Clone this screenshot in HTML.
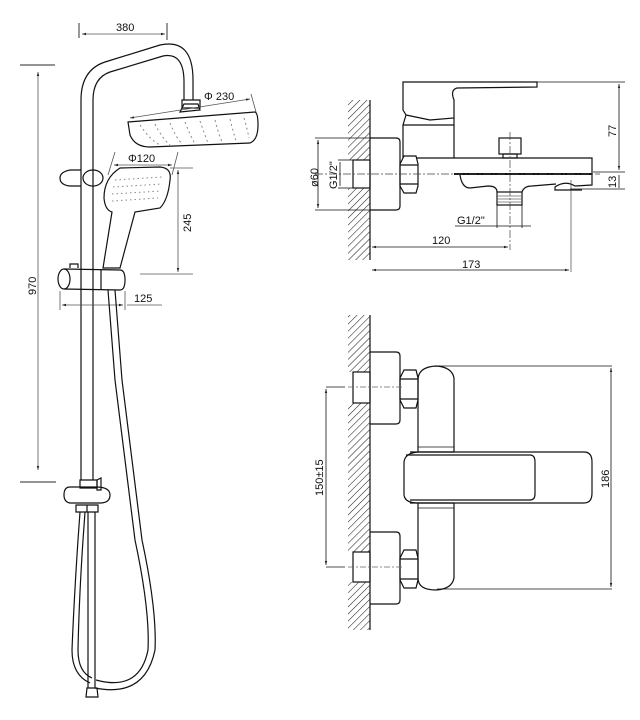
<!DOCTYPE html>
<html><head><meta charset="utf-8"><style>
html,body{margin:0;padding:0;background:#fff;}
svg{display:block}
text{font-family:"Liberation Sans",sans-serif;font-size:11px;fill:#111}
</style></head><body>
<svg width="640" height="720" viewBox="0 0 640 720" xmlns="http://www.w3.org/2000/svg">
<defs>
<pattern id="h" width="5" height="5" patternUnits="userSpaceOnUse" patternTransform="rotate(45)">
<line x1="0" y1="0" x2="0" y2="5" stroke="#222" stroke-width="1.1"/>
</pattern>
<marker id="a" markerWidth="6" markerHeight="6" refX="5" refY="3" orient="auto"><path d="M0,1.5 L5,3 L0,4.5z" fill="#222"/></marker>
<marker id="b" markerWidth="6" markerHeight="6" refX="1" refY="3" orient="auto"><path d="M6,1.5 L1,3 L6,4.5z" fill="#222"/></marker>
</defs>
<g fill="none" stroke="#111" stroke-width="1.2">
<!-- LEFT: shower column -->
<!-- 380 -->
<line x1="79" y1="23" x2="79" y2="38" stroke="#555"/><line x1="167" y1="23" x2="167" y2="40" stroke="#555"/>
<line x1="82" y1="34" x2="165" y2="34" stroke="#555" stroke-width="0.8" marker-start="url(#b)" marker-end="url(#a)"/>
<!-- 970 -->
<line x1="20" y1="65" x2="55" y2="65" stroke="#555"/><line x1="20" y1="482" x2="56" y2="482" stroke="#555"/>
<line x1="38" y1="72" x2="38" y2="470" stroke="#555" stroke-width="0.8" marker-start="url(#b)" marker-end="url(#a)"/>
<!-- rail pipe -->
<path d="M81,480 L81,100 Q81,70 105,62 L160,45 Q193,38 193,80 L193,100"/>
<path d="M93,480 L93,100 Q93,78 110,72 L163,56 Q184,52 184,82 L184,100"/>
<path d="M182,100 L182,108 L200,108 L200,100 Z"/>
<!-- head shower -->
<path d="M128,122 L255,112 Q258,113 258,125 Q258,140 250,143 L150,147 Q135,147 130,135 Z"/>
<path d="M180,112 L200,110 L198,104 L184,104 Z"/>
<g stroke="#888" stroke-width="1" stroke-dasharray="2 3">
<path d="M140,125 Q150,140 160,145"/><path d="M155,124 Q162,138 170,145"/><path d="M170,123 Q175,136 182,144"/><path d="M185,122 Q190,135 195,144"/><path d="M200,121 Q204,133 208,143"/><path d="M215,120 Q218,132 222,142"/><path d="M230,119 Q233,131 236,141"/><path d="M244,118 Q247,128 249,138"/>
</g>
<line x1="130" y1="118" x2="250" y2="99" stroke="#555" stroke-width="0.8" marker-start="url(#b)" marker-end="url(#a)"/>
<line x1="251" y1="94" x2="256" y2="112" stroke="#555" stroke-width="0.8"/>
<!-- upper holder -->
<path d="M81,170 L70,170 Q60,172 60,178 Q60,185 70,186 L81,186"/>
<ellipse cx="93" cy="178" rx="10" ry="8"/>
<!-- hand shower -->
<path d="M120,168 L160,167 Q172,168 170,180 Q168,200 160,208 L135,212 L120,268 L103,268 L112,212 Q105,210 104,198 Q104,178 120,168 Z"/>
<g stroke="#888" stroke-width="1" stroke-dasharray="1.5 3">
<path d="M115,180 L162,177"/><path d="M113,187 L162,184"/><path d="M112,194 L161,191"/><path d="M112,201 L158,198"/>
</g>
<line x1="114" y1="165" x2="172" y2="165" stroke="#555" stroke-width="0.8" marker-start="url(#b)" marker-end="url(#a)"/>
<line x1="115" y1="152" x2="108" y2="175" stroke="#555" stroke-width="0.8"/><line x1="178" y1="152" x2="172" y2="175" stroke="#555" stroke-width="0.8"/>
<!-- 245 -->
<line x1="170" y1="168" x2="193" y2="168" stroke="#555" stroke-width="0.8"/><line x1="140" y1="274" x2="193" y2="274" stroke="#555" stroke-width="0.8"/>
<line x1="178" y1="170" x2="178" y2="272" stroke="#555" stroke-width="0.8" marker-start="url(#b)" marker-end="url(#a)"/>
<!-- lower holder -->
<ellipse cx="64" cy="279" rx="6" ry="10"/>
<path d="M64,269 L120,270 Q125,270 125,280 Q125,290 120,290 L64,289"/>
<path d="M70,268 L70,264 L78,264 L78,268"/>
<line x1="101" y1="270" x2="101" y2="290"/>
<!-- 125 -->
<line x1="60" y1="291" x2="60" y2="310" stroke="#555" stroke-width="0.8"/><line x1="125" y1="291" x2="125" y2="310" stroke="#555" stroke-width="0.8"/>
<line x1="62" y1="305" x2="123" y2="305" stroke="#555" stroke-width="0.8" marker-start="url(#b)" marker-end="url(#a)"/>
<line x1="127" y1="305" x2="162" y2="305" stroke="#555" stroke-width="0.8"/>
<!-- hose -->
<path d="M108,290 L115,380 Q125,460 135,540 Q150,610 148,650 Q140,690 100,681 L96,680"/>
<path d="M115,290 L122,380 Q132,460 142,540 Q157,610 155,650 Q145,698 95,688"/>
<!-- diverter -->
<path d="M80,480 L80,488 L97,488 L97,480 Z"/>
<path d="M97,480 L97,490 L101,490 L101,478 Z"/>
<path d="M70,487 L96,487 Q110,487 110,495 Q110,503 100,503 L70,503 Q64,502 64,495 Q64,487 70,487 Z"/>
<path d="M76,505 L98,505 L98,512 L76,512 Z"/><line x1="87" y1="505" x2="87" y2="512"/>
<line x1="88" y1="512" x2="88" y2="688"/><line x1="95" y1="512" x2="95" y2="688"/>
<path d="M80,512 L78,540 Q74,600 72,650 Q72,675 90,683"/>
<path d="M85,512 L83,540 Q79,600 78,650 Q78,672 92,678"/>
<path d="M87,688 L97,688 L98,697 L86,697 Z"/>

<!-- RIGHT TOP -->
<rect x="348" y="100" width="22" height="60" fill="url(#h)" stroke="none"/>
<rect x="348" y="188" width="22" height="72" fill="url(#h)" stroke="none"/>
<line x1="370" y1="100" x2="370" y2="260"/>
<rect x="353" y="160" width="17" height="28"/>
<path d="M370,138 L396,138 Q400,138 400,142 L400,206 Q400,210 396,210 L370,210"/>
<path d="M404,156 L416,156 L418,164 L418,186 L416,193 L404,193 L400,186 L400,164 Z"/><line x1="400" y1="165" x2="418" y2="165"/><line x1="400" y1="184" x2="418" y2="184"/>
<path d="M403,158 L403,125 L406,115 L403,110 L403,82 L537,82 L537,87 L457,88 Q450,90 454,100 L454,118 L430,120 L406,115"/>
<line x1="403" y1="125" x2="454" y2="125"/><line x1="454" y1="118" x2="454" y2="158"/>
<path d="M416,158 L592,158 L592,185 L575,186 Q565,180 555,187 L555,190 L582,190"/>
<line x1="454" y1="174" x2="592" y2="174" stroke-width="2"/>
<path d="M460,175 Q462,188 470,188 L488,186 Q497,186 497,192"/>
<path d="M522,192 Q524,186 532,186 L556,184"/>
<rect x="497" y="192" width="25" height="13"/>
<g stroke="#666" stroke-width="0.8"><line x1="498" y1="196" x2="521" y2="196"/><line x1="498" y1="199" x2="521" y2="199"/><line x1="498" y1="202" x2="521" y2="202"/></g>
<rect x="499" y="138" width="22" height="16"/><rect x="503" y="154" width="14" height="4"/>
<line x1="315" y1="174" x2="600" y2="174" stroke="#444" stroke-width="0.7" stroke-dasharray="8 2 2 2"/>
<line x1="510" y1="132" x2="510" y2="250" stroke="#444" stroke-width="0.7" stroke-dasharray="8 2 2 2"/>
<line x1="571" y1="180" x2="571" y2="272" stroke="#444" stroke-width="0.7"/>
<!-- dims -->
<line x1="315" y1="138" x2="370" y2="138" stroke-width="0.8"/><line x1="315" y1="210" x2="370" y2="210" stroke-width="0.8"/>
<line x1="318" y1="140" x2="318" y2="208" stroke-width="0.8" marker-start="url(#b)" marker-end="url(#a)"/>
<line x1="338" y1="160" x2="353" y2="160" stroke-width="0.8"/><line x1="338" y1="188" x2="353" y2="188" stroke-width="0.8"/>
<line x1="340" y1="162" x2="340" y2="186" stroke-width="0.8"/>
<line x1="497" y1="205" x2="497" y2="228" stroke-width="0.8"/><line x1="522" y1="205" x2="522" y2="228" stroke-width="0.8"/>
<line x1="455" y1="226" x2="531" y2="226" stroke-width="0.8"/>
<line x1="372" y1="247" x2="508" y2="247" stroke-width="0.8" marker-start="url(#b)" marker-end="url(#a)"/>
<line x1="372" y1="270" x2="569" y2="270" stroke-width="0.8" marker-start="url(#b)" marker-end="url(#a)"/>
<line x1="537" y1="82" x2="625" y2="82" stroke-width="0.8"/><line x1="593" y1="172" x2="625" y2="172" stroke-width="0.8"/><line x1="570" y1="189" x2="625" y2="189" stroke-width="0.8"/>
<line x1="619" y1="84" x2="619" y2="170" stroke-width="0.8" marker-start="url(#b)" marker-end="url(#a)"/>
<line x1="619" y1="175" x2="619" y2="188" stroke-width="0.8"/>

<!-- RIGHT BOTTOM -->
<rect x="348" y="315" width="22" height="57" fill="url(#h)" stroke="none"/>
<rect x="348" y="403" width="22" height="149" fill="url(#h)" stroke="none"/>
<rect x="348" y="582" width="22" height="48" fill="url(#h)" stroke="none"/>
<line x1="370" y1="315" x2="370" y2="630"/>
<rect x="353" y="372" width="17" height="31"/><rect x="353" y="552" width="17" height="30"/>
<path d="M370,352 L396,352 Q400,352 400,356 L400,420 Q400,424 396,424 L370,424"/>
<path d="M370,532 L396,532 Q400,532 400,536 L400,600 Q400,604 396,604 L370,604"/>
<path d="M404,370 L416,370 L418,378 L418,400 L416,408 L404,408 L400,400 L400,378 Z"/><line x1="400" y1="379" x2="418" y2="379"/><line x1="400" y1="399" x2="418" y2="399"/>
<path d="M404,550 L416,550 L418,558 L418,580 L416,588 L404,588 L400,580 L400,558 Z"/><line x1="400" y1="559" x2="418" y2="559"/><line x1="400" y1="579" x2="418" y2="579"/>
<path d="M418,452 L418,380 Q418,367 436,366 Q452,367 454,378 L454,452"/>
<path d="M418,503 L418,578 Q418,590 436,590 Q452,589 454,578 L454,503"/>
<path d="M454,452 L418,452 Q405,453 404,462 L404,495 Q405,503 418,503 L454,503"/>
<path d="M410,452 L584,452 Q592,452 592,462 L592,493 Q592,503 584,503 L410,503"/>
<path d="M406,455 L530,455 Q535,455 535,462 L535,494 Q535,500 530,500 L410,500"/>
<line x1="418" y1="447" x2="454" y2="447" stroke-width="0.8"/><line x1="418" y1="508" x2="454" y2="508" stroke-width="0.8"/>
<line x1="437" y1="366" x2="612" y2="366" stroke-width="0.8"/><line x1="437" y1="589" x2="612" y2="589" stroke-width="0.8"/>
<line x1="611" y1="368" x2="611" y2="587" stroke-width="0.8" marker-start="url(#b)" marker-end="url(#a)"/>
<line x1="326" y1="387" x2="345" y2="387" stroke-width="0.8"/><line x1="326" y1="567" x2="345" y2="567" stroke-width="0.8"/>
<line x1="326" y1="389" x2="326" y2="565" stroke-width="0.8" marker-start="url(#b)" marker-end="url(#a)"/>
<line x1="348" y1="387" x2="402" y2="387" stroke="#666" stroke-width="0.7" stroke-dasharray="6 2 2 2"/>
<line x1="348" y1="567" x2="402" y2="567" stroke="#666" stroke-width="0.7" stroke-dasharray="6 2 2 2"/>
</g>
<!-- texts -->
<text x="116" y="31">380</text>
<text x="0" y="0" transform="translate(36,295) rotate(-90)">970</text>
<text x="204" y="100">Φ 230</text>
<text x="128" y="162">Φ120</text>
<text x="0" y="0" transform="translate(191,232) rotate(-90)">245</text>
<text x="134" y="302">125</text>
<text x="0" y="0" transform="translate(318,187) rotate(-90)">ø60</text>
<text x="0" y="0" transform="translate(337,189) rotate(-90)">G1/2"</text>
<text x="457" y="224">G1/2"</text>
<text x="432" y="244">120</text>
<text x="462" y="268">173</text>
<text x="0" y="0" transform="translate(616,137) rotate(-90)">77</text>
<text x="0" y="0" transform="translate(616,188) rotate(-90)">13</text>
<text x="0" y="0" transform="translate(609,488) rotate(-90)">186</text>
<text x="0" y="0" transform="translate(323,496) rotate(-90)">150±15</text>
</svg>
</body></html>
